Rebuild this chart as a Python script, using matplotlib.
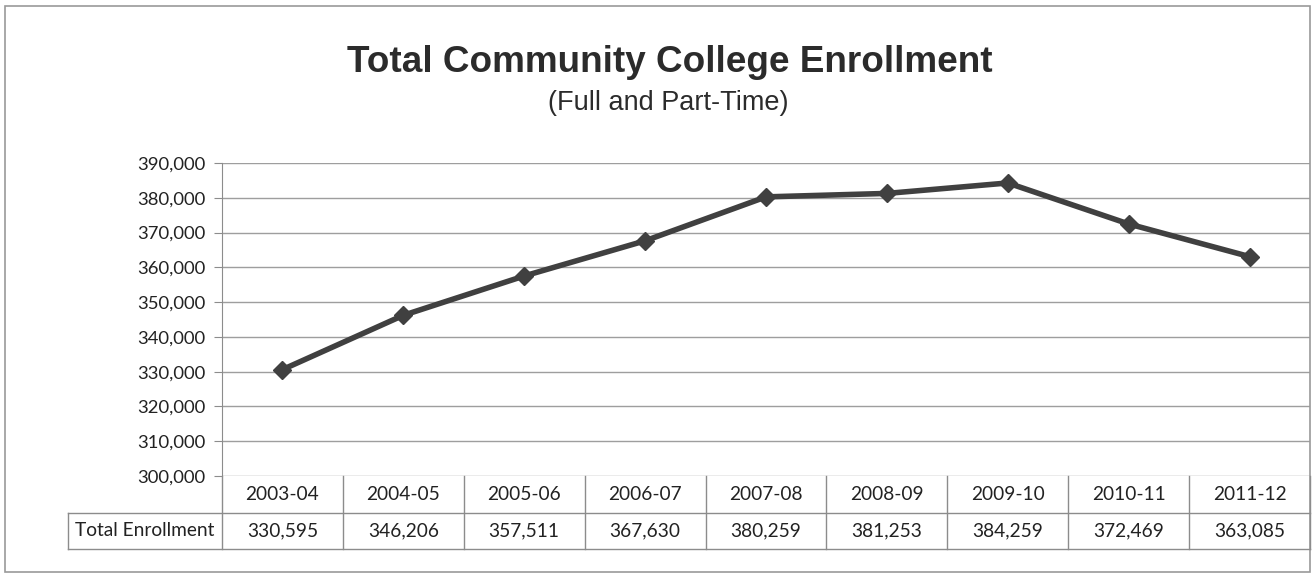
import matplotlib
matplotlib.use("Agg")
import matplotlib.pyplot as plt
from matplotlib.lines import Line2D
from matplotlib.patches import Rectangle
from matplotlib.ticker import FuncFormatter
import matplotlib.transforms as mtrans

years = ["2003-04", "2004-05", "2005-06", "2006-07", "2007-08",
         "2008-09", "2009-10", "2010-11", "2011-12"]
enrollment = [330595, 346206, 357511, 367630, 380259,
              381253, 384259, 372469, 363085]
y_ticks = list(range(300000, 390001, 10000))

W, H = 1314, 575
fig = plt.figure(figsize=(W / 100, H / 100), dpi=100)
fig.patch.set_facecolor("white")


def fx(px):
    return px / W


def fy(py):
    return 1 - py / H


# outer chart frame
fig.add_artist(Rectangle((fx(5), fy(572)), fx(1310) - fx(5), fy(6) - fy(572),
                         transform=fig.transFigure, fill=False,
                         edgecolor="#9a9a9a", linewidth=1.2))

left, right, top, bottom = 222, 1310, 163, 476
ax = fig.add_axes([fx(left), fy(bottom), fx(right) - fx(left), fy(top) - fy(bottom)])
ax.set_xlim(-0.5, len(years) - 0.5)
ax.set_ylim(y_ticks[0], y_ticks[-1])
ax.set_yticks(y_ticks)
ax.yaxis.set_major_formatter(FuncFormatter(lambda v, p: f"{int(v):,}"))
ax.set_xticks([])
ax.grid(axis="y", color="#9e9e9e", linewidth=1.0)
ax.set_axisbelow(True)
for s in ["top", "right", "bottom"]:
    ax.spines[s].set_visible(False)
ax.spines["left"].set_color("#8c8c8c")
ax.tick_params(axis="y", length=6, color="#8c8c8c", labelsize=13.3,
               labelcolor="#222222", pad=6)
for lbl in ax.get_yticklabels():
    lbl.set_family("Lato")

ax.plot(range(len(years)), enrollment, color="#404040", linewidth=4,
        marker="D", markersize=9.5, markerfacecolor="#404040",
        markeredgecolor="#404040", clip_on=False, zorder=3)

# data table under the plot
row_h = 36.5
rows_y = [bottom, bottom + row_h, bottom + 2 * row_h]
line_kw = dict(color="#8c8c8c", linewidth=1.0, transform=fig.transFigure)
blend = mtrans.blended_transform_factory(ax.transData, fig.transFigure)

# horizontal rules
fig.add_artist(Line2D([fx(68), fx(right)], [fy(rows_y[1])] * 2, **line_kw))
fig.add_artist(Line2D([fx(68), fx(right)], [fy(rows_y[2])] * 2, **line_kw))
# left side of the row-label cell
fig.add_artist(Line2D([fx(68), fx(68)], [fy(rows_y[1]), fy(rows_y[2])], **line_kw))
# column separators
for i in range(len(years) + 1):
    x = i - 0.5
    fig.add_artist(Line2D([x, x], [fy(rows_y[0]), fy(rows_y[2])],
                          color="#8c8c8c", linewidth=1.0, transform=blend))

text_kw = dict(fontsize=13.8, family="Lato", color="#222222",
               ha="center", va="center")
for i, (yr, val) in enumerate(zip(years, enrollment)):
    fig.text(0, 0, yr, transform=blend, **text_kw).set_position(
        (i, fy((rows_y[0] + rows_y[1]) / 2)))
    fig.text(0, 0, f"{val:,}", transform=blend, **text_kw).set_position(
        (i, fy((rows_y[1] + rows_y[2]) / 2)))
fig.text(fx(145), fy((rows_y[1] + rows_y[2]) / 2), "Total Enrollment",
         fontsize=13.8, family="Lato", color="#222222", ha="center", va="center")

# titles
fig.text(fx(670), fy(63), "Total Community College Enrollment",
         fontsize=26.6, fontweight="bold", family="Liberation Sans",
         color="#2b2b2b", ha="center", va="center")
fig.text(fx(668), fy(103), "(Full and Part-Time)",
         fontsize=19.5, family="Liberation Sans", color="#2b2b2b",
         ha="center", va="center")

fig.savefig("out.png", dpi=100, facecolor="white")
